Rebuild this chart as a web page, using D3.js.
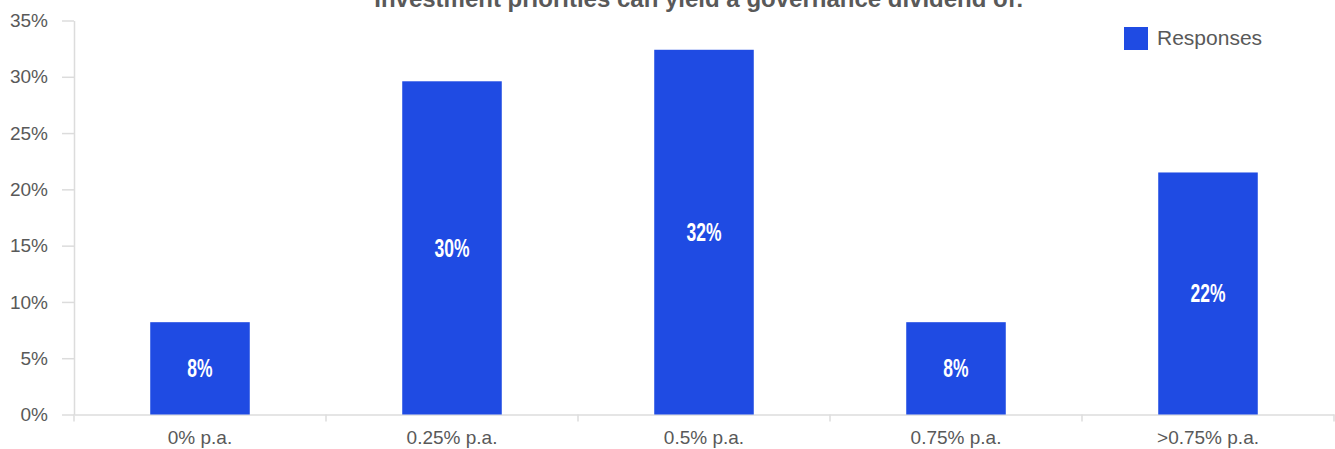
<!DOCTYPE html>
<html>
<head>
<meta charset="utf-8">
<script src="https://cdn.jsdelivr.net/npm/d3@7"></script>
<style>
  html, body { margin: 0; padding: 0; background: #fff; }
  svg { display: block; }
</style>
</head>
<body>
<svg id="chart" width="1335" height="449"></svg>
<script>
// Data
const categories = ["0% p.a.", "0.25% p.a.", "0.5% p.a.", "0.75% p.a.", ">0.75% p.a."];
const responses = [8.2, 29.6, 32.4, 8.2, 21.5];
const yTicks = [0, 5, 10, 15, 20, 25, 30, 35];
const seriesName = "Responses";
const title = "Investment priorities can yield a governance dividend of:";

const W = 1335, H = 449;
const margin = { top: 20.5, right: 1, bottom: 34.5, left: 74 };
const barColor = "#1f4be3";
const axisColor = "#dcdcdc";
const textColor = "#595959";

const svg = d3.select("#chart");

const x = d3.scaleBand()
  .domain(categories)
  .range([margin.left, W - margin.right])
  .paddingInner(0.605)
  .paddingOuter(0.3025);

const y = d3.scaleLinear()
  .domain([0, 35])
  .range([H - margin.bottom, margin.top]);

// Title (sits partly above the top edge)
svg.append("text")
  .attr("x", 699)
  .attr("y", 7)
  .attr("text-anchor", "middle")
  .attr("font-family", "'Liberation Sans', Arial, sans-serif")
  .attr("font-weight", "bold")
  .attr("font-size", 24)
  .attr("fill", textColor)
  .text(title);

// Y axis
const yAxis = svg.append("g")
  .attr("transform", `translate(${margin.left},0)`)
  .call(d3.axisLeft(y)
    .tickValues(yTicks)
    .tickFormat(d => d + "%")
    .tickSize(12)
    .tickSizeOuter(0)
    .tickPadding(14));
yAxis.select(".domain").attr("stroke", axisColor).attr("stroke-width", 1.5);
yAxis.selectAll(".tick line").attr("stroke", axisColor).attr("stroke-width", 1.5);
yAxis.selectAll(".tick text")
  .attr("fill", textColor)
  .attr("font-family", "'Liberation Sans', Arial, sans-serif")
  .attr("font-size", 19);

// X axis: labels centred on each band
const xAxis = svg.append("g")
  .attr("transform", `translate(0,${y(0)})`)
  .call(d3.axisBottom(x).tickSize(0).tickSizeOuter(0).tickPadding(16));
xAxis.select(".domain").attr("stroke", axisColor).attr("stroke-width", 1.5);
xAxis.selectAll(".tick text")
  .attr("fill", textColor)
  .attr("font-family", "'Liberation Sans', Arial, sans-serif")
  .attr("font-size", 19);

// X axis: ticks on the band boundaries
const boundaries = d3.range(categories.length + 1).map(i => x.range()[0] + i * x.step());
xAxis.selectAll("line.boundary")
  .data(boundaries)
  .join("line")
  .attr("class", "boundary")
  .attr("x1", d => d).attr("x2", d => d)
  .attr("y1", 0).attr("y2", 7)
  .attr("stroke", axisColor)
  .attr("stroke-width", 1.5);

// Bars
const data = categories.map((c, i) => ({ category: c, value: responses[i] }));
svg.append("g")
  .selectAll("rect")
  .data(data)
  .join("rect")
  .attr("x", d => x(d.category))
  .attr("width", x.bandwidth())
  .attr("y", d => y(d.value))
  .attr("height", d => y(0) - y(d.value))
  .attr("fill", barColor);

// Value labels inside the bars, in a condensed bold face
svg.append("g")
  .selectAll("text")
  .data(data)
  .join("text")
  .attr("transform", d =>
    `translate(${x(d.category) + x.bandwidth() / 2},${(y(d.value) + y(0)) / 2}) scale(0.7,1)`)
  .attr("text-anchor", "middle")
  .attr("dominant-baseline", "central")
  .attr("font-family", "'Liberation Sans', Arial, sans-serif")
  .attr("font-weight", "bold")
  .attr("font-size", 25)
  .attr("fill", "#ffffff")
  .text(d => d3.format(".0f")(d.value) + "%");

// Legend
const legend = svg.append("g").attr("transform", "translate(1124,27)");
legend.append("rect")
  .attr("width", 24).attr("height", 23)
  .attr("fill", barColor);
legend.append("text")
  .attr("x", 33)
  .attr("y", 17.5)
  .attr("font-family", "'Liberation Sans', Arial, sans-serif")
  .attr("font-size", 21)
  .attr("fill", textColor)
  .text(seriesName);
</script>
</body>
</html>
